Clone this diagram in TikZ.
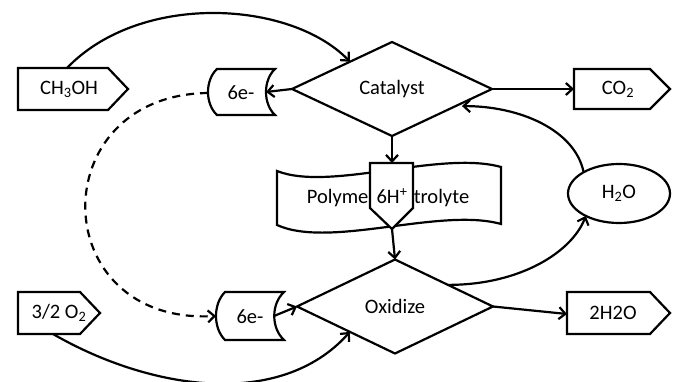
\documentclass[tikz,border=0pt]{standalone}
\usepackage{fontspec}
\setmainfont{Carlito}
\usetikzlibrary{shapes.geometric,arrows.meta,calc}
\begin{document}
\begin{tikzpicture}[x=1pt,y=-1pt,
  line width=2.2pt, line join=miter,
  every node/.style={font=\fontsize{20.5}{24}\selectfont, inner sep=0pt, outer sep=0pt},
  dia/.style={draw, diamond, aspect=2.1, minimum width=200pt, minimum height=94pt},
  arr/.style={-{Straight Barb[length=6.5pt,width=12pt]}},
  dsh/.style={dash pattern=on 8pt off 6pt}]
\useasboundingbox (0,0) rectangle (675,382);

% pentagon boxes
\draw (18,68) -- (108,68) -- (128,89) -- (108,110) -- (18,110) -- cycle;
\node (ch3oh) at (69,89) {CH\textsubscript{3}OH};
\coordinate (ch3oh top) at (67,68);

\draw (574,69) -- (650,69) -- (670,89) -- (650,109) -- (574,109) -- cycle;
\node (co2) at (618,89) {CO\textsubscript{2}};
\coordinate (co2 w) at (574,89);

\draw (18,292) -- (80,292) -- (100,313) -- (80,334) -- (18,334) -- cycle;
\node (o2) at (59,313) {3/2 O\textsubscript{2}};
\coordinate (o2 bot) at (53,334);

\draw (567,292) -- (650,292) -- (670,313) -- (650,334) -- (567,334) -- cycle;
\node (h2o out) at (613,313) {2H2O};
\coordinate (h2o out w) at (567,314);

% diamonds
\node[dia] (cat) at (392,89) {Catalyst};
\node[dia, minimum width=196pt] (ox) at (395,306.5) {Oxidize};

% ellipse
\node[draw, ellipse, minimum width=102pt, minimum height=59pt] (h2o) at (619,193.5) {H\textsubscript{2}O};

% 6e- shapes
\draw (217,69) -- (275,69) .. controls (263,80) and (263,104) .. (275,115)
      -- (217,115) .. controls (205,104) and (205,80) .. (217,69) -- cycle;
\node (e1) at (241,93) {6e-};
\coordinate (e1r) at (266,92);
\coordinate (e1l) at (208,93);

\draw (225,292) -- (284,292) .. controls (271,304) and (271,328) .. (284,340)
      -- (225,340) .. controls (213,328) and (213,304) .. (225,292) -- cycle;
\node (e2) at (250,317) {6e-};
\coordinate (e2r) at (274,316);
\coordinate (e2l) at (216,316);

% polymer electrolyte tape
\draw (277,171) .. controls (330,192) and (440,150) .. (501,167)
      -- (501,224) .. controls (440,207) and (330,249) .. (277,225) -- cycle;
\node (pe) at (388,198) {Polymer Electrolyte};

% 6H+ connector
\draw[fill=white] (370,163) -- (413,163) -- (413,208) -- (392,229) -- (370,208) -- cycle;
\node (hp) at (392,196) {6H\textsuperscript{+}};
\coordinate (hp n) at (392,163);
\coordinate (hp s) at (392,229);

% connectors
\draw[arr] (cat.west) -- (e1r);
\draw[arr] (cat.east) -- (co2 w);
\draw[arr] (cat.south) -- (hp n);
\draw[arr] (hp s) -- (ox.north);
\draw[arr] (e2r) -- (ox.west);
\draw[arr] (ox.east) -- (h2o out w);
\draw[arr, dsh] (e1l) .. controls (42,95) and (45,325) .. (e2l);

\coordinate (cat ul) at ($(cat.west)!0.58!(cat.north)$);
\coordinate (cat lr) at ($(cat.east)!0.30!(cat.south)$);
\coordinate (ox ll) at ($(ox.west)!0.54!(ox.south)$);
\coordinate (ox ur) at ($(ox.north)!0.54!(ox.east)$);

\draw[arr] (ch3oh top) .. controls (140,-8) and (290,0) .. (cat ul);
\draw[arr] (o2 bot) .. controls (150,390) and (280,410) .. (ox ll);
\draw[arr] (ox ur) .. controls (520,285) and (572,252) .. (h2o.214);
\draw[arr] (h2o.149) .. controls (575,130) and (520,106) .. ([yshift=-3pt]cat lr);
\end{tikzpicture}
\end{document}
